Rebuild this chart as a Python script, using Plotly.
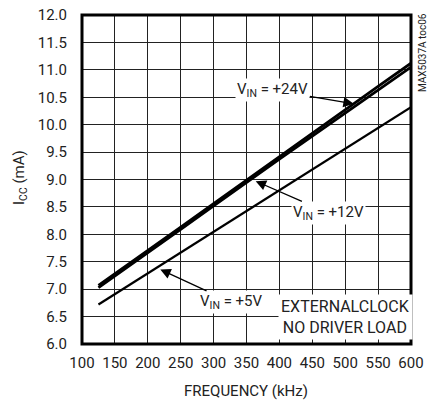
import plotly.graph_objects as go

freq_khz = [125, 150, 200, 250, 300, 350, 400, 450, 500, 550, 600]
icc_24v = [7.07, 7.28, 7.71, 8.13, 8.56, 8.99, 9.42, 9.85, 10.28, 10.70, 11.12]
icc_12v = [7.03, 7.24, 7.67, 8.09, 8.52, 8.95, 9.37, 9.79, 10.21, 10.63, 11.05]
icc_5v = [6.72, 6.91, 7.29, 7.67, 8.05, 8.43, 8.81, 9.18, 9.56, 9.94, 10.32]

x_ticks = [100, 150, 200, 250, 300, 350, 400, 450, 500, 550, 600]
y_ticks = [6.0, 6.5, 7.0, 7.5, 8.0, 8.5, 9.0, 9.5, 10.0, 10.5, 11.0, 11.5, 12.0]

FONT = "Roboto"

fig = go.Figure()
for ys, w in [(icc_5v, 2.2), (icc_12v, 2.8), (icc_24v, 2.8)]:
    fig.add_trace(go.Scatter(x=freq_khz, y=ys, mode="lines",
                             line=dict(color="black", width=w), showlegend=False))

axis_common = dict(showgrid=True, gridcolor="#222", gridwidth=1.1, zeroline=False,
                   showline=False, ticks="", color="#222", automargin=False,
                   ticklabeloverflow="allow",
                   tickfont=dict(family=FONT, size=15, color="#222"))
fig.update_xaxes(range=[100, 600], tickvals=x_ticks, ticktext=[str(v) for v in x_ticks],
                 ticklabelstandoff=8, **axis_common)
fig.update_yaxes(range=[6, 12], tickvals=y_ticks, ticktext=[f"{v:.1f}" for v in y_ticks],
                 ticklabelstandoff=14, **axis_common)

fig.add_shape(type="rect", xref="paper", yref="paper", x0=0, y0=0, x1=1, y1=1,
              line=dict(color="black", width=3), layer="above")

ann_font = dict(family=FONT, size=15, color="#222")
arrow = dict(showarrow=True, arrowhead=2, arrowsize=1.6, arrowwidth=1.3,
             arrowcolor="black", axref="x", ayref="y", bgcolor="white", borderpad=1,
             font=ann_font)
fig.add_annotation(x=513, y=10.38, ax=390, ay=10.63, text="V<sub>IN</sub> = +24V", **arrow)
fig.add_annotation(x=364, y=8.97, ax=474, ay=8.39, text="V<sub>IN</sub> = +12V", **arrow)
fig.add_annotation(x=219, y=7.36, ax=327, ay=6.76, text="V<sub>IN</sub> = +5V", **arrow)

fig.add_annotation(x=500, y=6.49, text="EXTERNALCLOCK<br>NO DRIVER LOAD", showarrow=False,
                   bgcolor="white", font=dict(family=FONT, size=16, color="#222"), borderpad=2)

center = dict(xanchor="center", yanchor="middle", showarrow=False)
fig.add_annotation(xref="paper", yref="paper", x=(423 - 82) / 329, y=(344 - 52) / 329,
                   text="MAX5037A toc06", textangle=-90,
                   font=dict(family=FONT, size=10, color="#222"), **center)
fig.add_annotation(xref="paper", yref="paper", x=(20 - 82) / 329, y=(344 - 178) / 329,
                   text="I<sub>CC</sub> (mA)", textangle=-90, font=ann_font, **center)
fig.add_annotation(xref="paper", yref="paper", x=(246 - 82) / 329, y=-(391 - 344) / 329,
                   text="FREQUENCY (kHz)", font=ann_font, **center)

fig.update_layout(width=432, height=406, margin=dict(l=82, r=21, t=15, b=62),
                  paper_bgcolor="white", plot_bgcolor="white", font=dict(family=FONT))
fig.write_html("out.html", config={"displayModeBar": False},
               post_script="document.body.style.margin='0';")
